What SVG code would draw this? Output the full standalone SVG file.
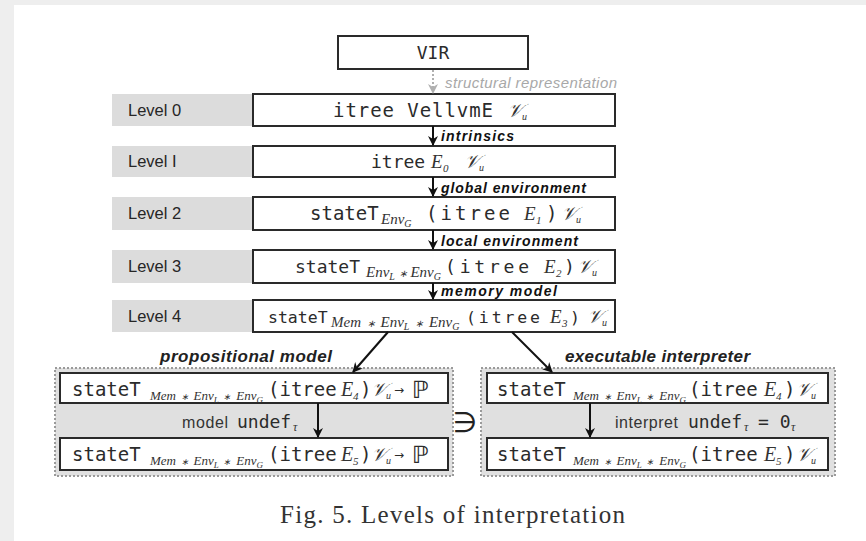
<svg xmlns="http://www.w3.org/2000/svg" width="866" height="541" viewBox="0 0 866 541">
<style>
.box{fill:#fff;stroke:#2a2a2a;stroke-width:2}
.lab{fill:#dcdcdc}
.lvl{font-family:"Liberation Sans",Arial,sans-serif;font-size:16.5px;fill:#262626}
.mono{font-family:"DejaVu Sans Mono",monospace;fill:#2b2b2b}
.it{font-family:"Liberation Serif","Times New Roman",serif;font-style:italic;fill:#333}
.cal{font-family:"DejaVu Serif","DejaVu Sans",serif;font-style:italic;fill:#333}
.al{font-family:"Liberation Sans",Arial,sans-serif;font-weight:bold;font-style:italic;font-size:14px;fill:#111}
.ttl{font-family:"Liberation Sans",Arial,sans-serif;font-weight:bold;font-style:italic;font-size:17px;fill:#222}
.sans{font-family:"Liberation Sans",Arial,sans-serif;font-size:16px;fill:#333}
.conn{stroke:#111;stroke-width:2;fill:none}
.outer{fill:#e0e0e0;stroke:#9a9a9a;stroke-width:2;stroke-dasharray:2 2}
</style>
<defs>
<marker id="ah" viewBox="0 0 10 10" refX="9" refY="5" markerWidth="5" markerHeight="5" orient="auto" markerUnits="strokeWidth">
<path d="M0,0 L10,5 L0,10 L3,5 z" fill="#111"/>
</marker>
<marker id="ahg" viewBox="0 0 10 10" refX="9" refY="5" markerWidth="5" markerHeight="5" orient="auto" markerUnits="strokeWidth">
<path d="M0,0 L10,5 L0,10 L3,5 z" fill="#b0b0b0"/>
</marker>
</defs>
<rect x="0" y="0" width="866" height="541" fill="#eeeeee"/>
<rect x="14" y="5" width="852" height="536" fill="#ffffff"/>

<g id="vir">
<rect class="box" x="338" y="36" width="190" height="33"/>
<text class="mono" font-size="18" x="433" y="59" text-anchor="middle">VIR</text>
</g>

<g id="level0">
<rect class="lab" x="112" y="94" width="140" height="32"/>
<text class="lvl" x="128" y="116">Level 0</text>
<rect class="box" x="253" y="94" width="362" height="32"/>
<text class="mono" font-size="19"><tspan x="333" y="117" textLength="160">itree VellvmE</tspan><tspan class="cal" font-size="19" x="507" y="117">𝒱</tspan><tspan class="it" font-size="10" x="522" y="120">u</tspan></text>
</g>

<g id="level1">
<rect class="lab" x="112" y="146" width="140" height="31"/>
<text class="lvl" x="128" y="167">Level I</text>
<rect class="box" x="253" y="146" width="362" height="31"/>
<text class="mono" font-size="18"><tspan x="371" y="168">itree</tspan><tspan class="it" font-size="19" x="431" y="168">E</tspan><tspan class="it" font-size="11" x="443" y="172">0</tspan><tspan class="cal" font-size="19" x="464" y="168">𝒱</tspan><tspan class="it" font-size="10" x="479" y="171">u</tspan></text>
</g>

<g id="level2">
<rect class="lab" x="112" y="197" width="140" height="33"/>
<text class="lvl" x="128" y="219">Level 2</text>
<rect class="box" x="253" y="197" width="362" height="33"/>
<text class="mono" font-size="19"><tspan x="310" y="220">stateT</tspan><tspan class="it" font-size="15" x="381" y="224">Env<tspan font-size="10" dy="3">G</tspan></tspan><tspan x="426" y="220" textLength="84">(itree</tspan><tspan class="it" font-size="19" x="524" y="220">E</tspan><tspan class="it" font-size="11" x="536" y="224">1</tspan><tspan x="546" y="220">)</tspan><tspan class="cal" font-size="19" x="561" y="220">𝒱</tspan><tspan class="it" font-size="10" x="576" y="223">u</tspan></text>
</g>

<g id="level3">
<rect class="lab" x="112" y="250" width="140" height="33"/>
<text class="lvl" x="128" y="272">Level 3</text>
<rect class="box" x="253" y="250" width="362" height="33"/>
<text class="mono" font-size="18"><tspan x="295" y="273">stateT</tspan><tspan class="it" font-size="15" x="366" y="277">Env<tspan font-size="10" dy="3">L</tspan><tspan dy="-3"> <tspan font-size="10">∗</tspan> Env</tspan><tspan font-size="10" dy="3">G</tspan></tspan><tspan x="445" y="273" textLength="84">(itree</tspan><tspan class="it" font-size="19" x="544" y="273">E</tspan><tspan class="it" font-size="11" x="556" y="277">2</tspan><tspan x="564" y="273">)</tspan><tspan class="cal" font-size="19" x="577" y="273">𝒱</tspan><tspan class="it" font-size="10" x="592" y="276">u</tspan></text>
</g>

<g id="level4">
<rect class="lab" x="112" y="300" width="140" height="32"/>
<text class="lvl" x="128" y="322">Level 4</text>
<rect class="box" x="253" y="300" width="362" height="32"/>
<text class="mono" font-size="16.5"><tspan x="268" y="323">stateT</tspan><tspan class="it" font-size="15" x="331" y="327" word-spacing="2">Mem <tspan font-size="10">∗</tspan> Env<tspan font-size="10" dy="3">L</tspan><tspan dy="-3"> <tspan font-size="10">∗</tspan> Env</tspan><tspan font-size="10" dy="3">G</tspan></tspan><tspan x="466" y="323" textLength="74">(itree</tspan><tspan class="it" font-size="19" x="550" y="323">E</tspan><tspan class="it" font-size="11" x="562" y="327">3</tspan><tspan x="570" y="323">)</tspan><tspan class="cal" font-size="19" x="587" y="323">𝒱</tspan><tspan class="it" font-size="10" x="602" y="326">u</tspan></text>
</g>

<g id="propositional">
<text class="ttl" x="160" y="362" textLength="172">propositional model</text>
<rect class="outer" x="55" y="368" width="398" height="108"/>
<rect class="box" x="60" y="373" width="388" height="30"/>
<text class="mono" font-size="19"><tspan x="72" y="396">stateT</tspan><tspan class="it" font-size="13" x="150" y="400" word-spacing="1.5">Mem <tspan font-size="9">∗</tspan> Env<tspan font-size="9" dy="3">L</tspan><tspan dy="-3"> <tspan font-size="9">∗</tspan> Env</tspan><tspan font-size="9" dy="3">G</tspan></tspan><tspan x="268" y="396">(itree</tspan><tspan class="it" font-size="20" x="341" y="396">E</tspan><tspan class="it" font-size="11" x="353" y="400">4</tspan><tspan x="360" y="396">)</tspan><tspan class="cal" font-size="19" x="371" y="396">𝒱</tspan><tspan class="it" font-size="10" x="386" y="399">u</tspan><tspan font-family="DejaVu Sans,sans-serif" font-size="12" x="394" y="394">→</tspan><tspan font-family="DejaVu Sans,sans-serif" font-size="24" x="412" y="398">ℙ</tspan></text>
<text class="sans" x="182" y="428" textLength="46">model</text>
<text class="mono" font-size="18"><tspan x="237" y="428">undef</tspan><tspan class="it" font-size="12" x="293" y="431">τ</tspan></text>
<rect class="box" x="60" y="438" width="388" height="32"/>
<text class="mono" font-size="19"><tspan x="72" y="461">stateT</tspan><tspan class="it" font-size="13" x="150" y="465" word-spacing="1.5">Mem <tspan font-size="9">∗</tspan> Env<tspan font-size="9" dy="3">L</tspan><tspan dy="-3"> <tspan font-size="9">∗</tspan> Env</tspan><tspan font-size="9" dy="3">G</tspan></tspan><tspan x="268" y="461">(itree</tspan><tspan class="it" font-size="20" x="341" y="461">E</tspan><tspan class="it" font-size="11" x="353" y="465">5</tspan><tspan x="360" y="461">)</tspan><tspan class="cal" font-size="19" x="371" y="461">𝒱</tspan><tspan class="it" font-size="10" x="386" y="464">u</tspan><tspan font-family="DejaVu Sans,sans-serif" font-size="12" x="394" y="459">→</tspan><tspan font-family="DejaVu Sans,sans-serif" font-size="24" x="412" y="463">ℙ</tspan></text>
</g>

<text id="contains" x="465" y="432" text-anchor="middle" font-family="DejaVu Sans,sans-serif" font-size="28" fill="#222">∋</text>

<g id="executable">
<text class="ttl" x="565" y="362" textLength="185">executable interpreter</text>
<rect class="outer" x="481" y="368" width="354" height="108"/>
<rect class="box" x="487" y="373" width="341" height="30"/>
<text class="mono" font-size="19"><tspan x="497" y="396">stateT</tspan><tspan class="it" font-size="13" x="573" y="400" word-spacing="1.5">Mem <tspan font-size="9">∗</tspan> Env<tspan font-size="9" dy="3">L</tspan><tspan dy="-3"> <tspan font-size="9">∗</tspan> Env</tspan><tspan font-size="9" dy="3">G</tspan></tspan><tspan x="689" y="396">(itree</tspan><tspan class="it" font-size="20" x="764" y="396">E</tspan><tspan class="it" font-size="11" x="776" y="400">4</tspan><tspan x="784" y="396">)</tspan><tspan class="cal" font-size="19" x="796" y="396">𝒱</tspan><tspan class="it" font-size="10" x="811" y="399">u</tspan></text>
<text class="sans" x="615" y="428" textLength="63">interpret</text>
<text class="mono" font-size="18"><tspan x="688" y="428">undef</tspan><tspan class="it" font-size="12" x="744" y="431">τ</tspan><tspan x="758" y="428">= 0</tspan><tspan class="it" font-size="12" x="791" y="431">τ</tspan></text>
<rect class="box" x="487" y="438" width="341" height="32"/>
<text class="mono" font-size="19"><tspan x="497" y="461">stateT</tspan><tspan class="it" font-size="13" x="573" y="465" word-spacing="1.5">Mem <tspan font-size="9">∗</tspan> Env<tspan font-size="9" dy="3">L</tspan><tspan dy="-3"> <tspan font-size="9">∗</tspan> Env</tspan><tspan font-size="9" dy="3">G</tspan></tspan><tspan x="689" y="461">(itree</tspan><tspan class="it" font-size="20" x="764" y="461">E</tspan><tspan class="it" font-size="11" x="776" y="465">5</tspan><tspan x="784" y="461">)</tspan><tspan class="cal" font-size="19" x="796" y="461">𝒱</tspan><tspan class="it" font-size="10" x="811" y="464">u</tspan></text>
</g>

<g id="connectors">
<line x1="433" y1="70" x2="433" y2="93" stroke="#b0b0b0" stroke-width="2" stroke-dasharray="2 2" marker-end="url(#ahg)"/>
<text x="445" y="88" font-family="Liberation Sans,Arial,sans-serif" font-style="italic" font-size="15" fill="#a8a8a8" textLength="172">structural representation</text>
<line class="conn" x1="433" y1="126" x2="433" y2="145" marker-end="url(#ah)"/>
<text class="al" x="441" y="141" textLength="73">intrinsics</text>
<line class="conn" x1="433" y1="177" x2="433" y2="196" marker-end="url(#ah)"/>
<text class="al" x="441" y="193" textLength="145">global environment</text>
<line class="conn" x1="433" y1="230" x2="433" y2="249" marker-end="url(#ah)"/>
<text class="al" x="441" y="246" textLength="137">local environment</text>
<line class="conn" x1="433" y1="283" x2="433" y2="299" marker-end="url(#ah)"/>
<text class="al" x="441" y="296" textLength="116">memory model</text>
<line class="conn" x1="388" y1="332" x2="353" y2="372" marker-end="url(#ah)"/>
<line class="conn" x1="512" y1="332" x2="552" y2="372" marker-end="url(#ah)"/>
<line class="conn" x1="318" y1="403" x2="318" y2="437" marker-end="url(#ah)"/>
<line class="conn" x1="590" y1="403" x2="590" y2="437" marker-end="url(#ah)"/>
</g>

<text x="280" y="523" font-family="Liberation Serif,Times New Roman,serif" font-size="25" fill="#333" textLength="345">Fig. 5.  Levels of interpretation</text>
</svg>
